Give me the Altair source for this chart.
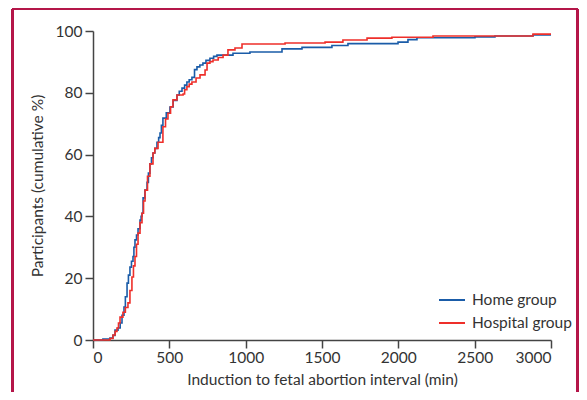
import altair as alt
import pandas as pd

home_x = [0, 65, 111, 130, 144, 164, 178, 190, 203, 212, 223, 232, 242, 252, 262, 268, 275, 285, 295, 308, 315, 321, 328, 340, 354, 363, 373, 383, 393, 405, 419, 430, 439, 448, 458, 480, 504, 525, 550, 565, 583, 600, 615, 630, 648, 665, 681, 700, 720, 740, 766, 790, 812, 917, 1028, 1238, 1369, 1565, 1670, 1998, 2063, 2122, 2502, 2633, 2882, 3000]
home_y = [0, 0.3, 0.6, 1.5, 3.2, 3.9, 5.5, 8, 10.7, 14, 18.4, 21, 23.6, 25.5, 27, 30, 32.4, 34, 36, 38.8, 40, 41, 46, 48.5, 51, 54, 57, 59, 60.5, 62, 64, 65.5, 67, 69.5, 71.8, 73.5, 75.4, 77.5, 79.3, 80.5, 81.5, 82.5, 83.5, 84.2, 85, 87.5, 88.4, 89, 89.6, 90.5, 91.2, 91.8, 92.2, 92.8, 93.2, 94.2, 94.7, 95.3, 95.9, 96.4, 97.2, 97.8, 98.1, 98.4, 98.7, 98.7]

hosp_x = [0, 111, 131, 145, 157, 167, 177, 196, 212, 229, 242, 255, 265, 275, 285, 295, 308, 321, 331, 341, 357, 373, 393, 405, 426, 458, 475, 491, 508, 524, 550, 590, 600, 615, 630, 648, 675, 701, 734, 747, 766, 786, 820, 852, 884, 930, 976, 1258, 1520, 1637, 1795, 1958, 2227, 2882, 3000]
hosp_y = [0, 0.5, 1.6, 2.8, 3.9, 5.5, 7.4, 9, 10.5, 12, 16, 20.4, 24, 27, 31, 34.6, 38, 41, 45, 48.5, 53, 57, 60.5, 62, 64, 69, 71.5, 73.4, 75.5, 77.7, 79.3, 79.6, 81, 82, 82.8, 83.5, 84.8, 85.8, 87.4, 89.6, 90.1, 90.6, 91.4, 92.2, 93.9, 94.5, 95.8, 96.1, 96.4, 97.1, 97.7, 98.0, 98.4, 99.0, 99.0]

groups = ["Home group", "Hospital group"]
colors = ["#1a5ca8", "#ee2f2a"]

df = pd.concat([
    pd.DataFrame({"t": home_x, "p": home_y, "g": groups[0]}),
    pd.DataFrame({"t": hosp_x, "p": hosp_y, "g": groups[1]}),
])

FONT = "Lato"
FS = 15.5
TXT = "#333333"
AX = "#444444"
FRAME = "#b5174a"

lines = alt.Chart(df).mark_line(interpolate="step-after", strokeWidth=1.6).encode(
    x=alt.X("t:Q", scale=alt.Scale(domain=[0, 3000], nice=False),
            axis=alt.Axis(title="Induction to fetal abortion interval (min)", values=[0, 500, 1000, 1500, 2000, 2500, 3000],
                          grid=False, tickSize=8, labelPadding=2, titlePadding=7, format="d")),
    y=alt.Y("p:Q", scale=alt.Scale(domain=[0, 100], nice=False),
            axis=alt.Axis(title="Participants (cumulative %)", values=[0, 20, 40, 60, 80, 100],
                          grid=False, tickSize=8, labelPadding=3, titlePadding=10)),
    color=alt.Color("g:N", scale=alt.Scale(domain=groups, range=colors),
                    legend=alt.Legend(title=None, orient="none", legendX=345, legendY=255,
                                      symbolType="stroke", symbolSize=676, symbolStrokeWidth=2,
                                      labelFontSize=FS, labelFont=FONT, labelColor=TXT,
                                      rowPadding=-5, labelOffset=6)),
    detail="g:N",
)

frame_left = alt.Chart(df).mark_rule(color=FRAME, strokeWidth=1.5).encode(
    x=alt.value(-80.5), y=alt.value(-22), y2=alt.value(400))
frame_top = alt.Chart(df).mark_rule(color=FRAME, strokeWidth=1.5).encode(
    x=alt.value(-80.5), x2=alt.value(484.5), y=alt.value(-22))
frame_right = alt.Chart(df).mark_rule(color=FRAME, strokeWidth=1.5).encode(
    x=alt.value(484.5), y=alt.value(-22), y2=alt.value(400))

chart = alt.layer(frame_left, frame_top, frame_right, lines).properties(
    width=458, height=309,
    autosize=alt.AutoSizeParams(type="none"),
    padding={"left": 85, "top": 23, "right": 28, "bottom": 52},
).configure_view(stroke=None).configure_axis(
    domainColor=AX, tickColor=AX, domainWidth=1.5, tickWidth=1.5,
    labelFont=FONT, titleFont=FONT, labelFontSize=FS, titleFontSize=FS,
    labelColor=TXT, titleColor=TXT, titleFontWeight="normal",
)

chart.save("out.html", embed_options={"renderer": "svg", "actions": False})
